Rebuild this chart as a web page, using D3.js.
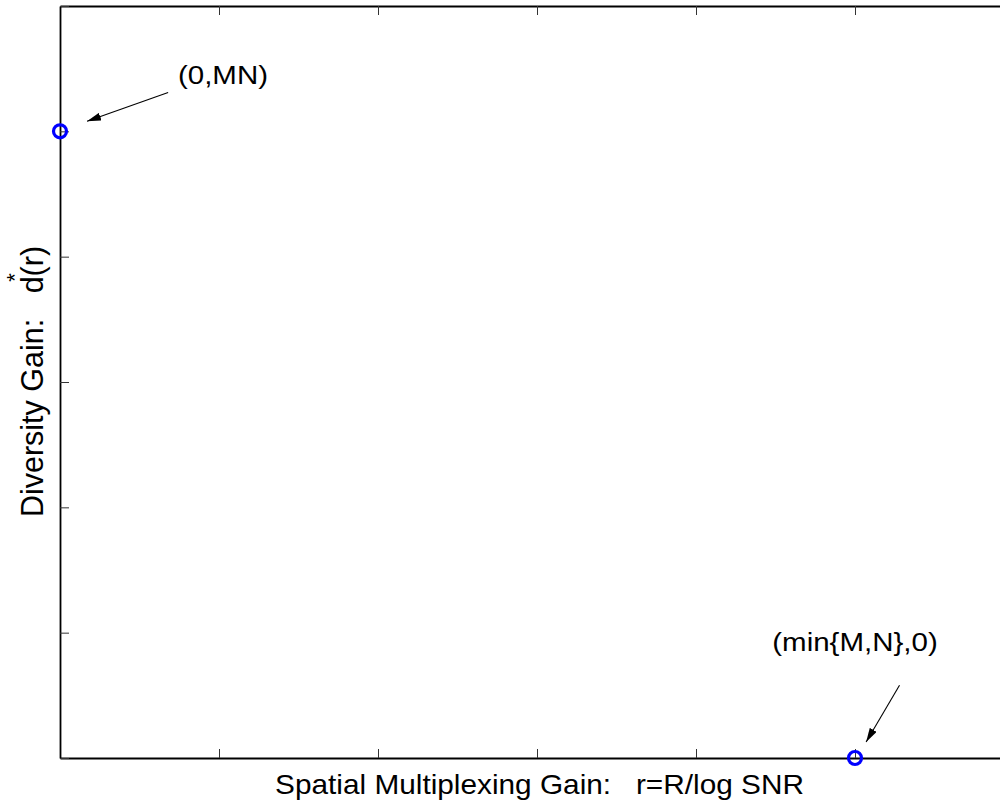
<!DOCTYPE html>
<html>
<head>
<meta charset="utf-8">
<script src="https://cdn.jsdelivr.net/npm/d3@7"></script>
<style>
  body { margin: 0; background: #fff; }
  text { font-family: "Liberation Sans", Arial, sans-serif; fill: #000; white-space: pre; }
</style>
</head>
<body>
<div id="chart"></div>
<script>
// points of the tradeoff curve ends
var pointX = [0, 5];
var pointY = [5, 0];

// ticks (no tick labels in the figure)
var xTicks = [0, 1, 2, 3, 4, 5, 6];
var yTicks = [0, 1, 2, 3, 4, 5, 6];

// annotations, in data units
var noteText = ['(0,MN)', '(min{M,N},0)'];
var noteX = [1.025, 5.0];
var noteY = [5.38, 0.854];
var arrowFromX = [0.68, 5.28];
var arrowFromY = [5.31, 0.58];
var arrowToX = [0.17, 5.07];
var arrowToY = [5.08, 0.128];

var width = 1000, height = 807;
var margin = {top: 6, left: 60, bottom: 49};

var x = d3.scaleLinear().domain([0, 6]).range([margin.left, 1014]);
var y = d3.scaleLinear().domain([0, 6]).range([height - margin.bottom, margin.top]);

var svg = d3.select("#chart").append("svg")
    .attr("width", width)
    .attr("height", height);

var defs = svg.append("defs");
defs.append("marker")
    .attr("id", "head")
    .attr("viewBox", "0 0 14 8")
    .attr("refX", 14).attr("refY", 4)
    .attr("markerWidth", 14).attr("markerHeight", 8)
    .attr("markerUnits", "userSpaceOnUse")
    .attr("orient", "auto")
  .append("path")
    .attr("d", "M0,0 L14,4 L0,8 Z")
    .attr("fill", "#000");

// axes box with inward ticks on all sides
var tickLen = 9;
function styleAxis(g) {
    g.selectAll(".tick text").remove();
    g.selectAll(".tick line").attr("stroke", "#333").attr("stroke-width", 1);
    g.select(".domain").attr("stroke", "#000").attr("stroke-width", 1.8);
}

svg.append("g").attr("transform", "translate(0," + y(0) + ")")
    .call(d3.axisBottom(x).tickValues(xTicks).tickSize(-tickLen).tickSizeOuter(0))
    .call(styleAxis);
svg.append("g").attr("transform", "translate(0," + y(6) + ")")
    .call(d3.axisTop(x).tickValues(xTicks).tickSize(-tickLen).tickSizeOuter(0))
    .call(styleAxis);
svg.append("g").attr("transform", "translate(" + x(0) + ",0)")
    .call(d3.axisLeft(y).tickValues(yTicks).tickSize(-tickLen).tickSizeOuter(0))
    .call(styleAxis);
svg.append("g").attr("transform", "translate(" + x(6) + ",0)")
    .call(d3.axisRight(y).tickValues(yTicks).tickSize(-tickLen).tickSizeOuter(0))
    .call(styleAxis);

// markers
svg.selectAll("circle.pt")
    .data(pointX.map((d, i) => ({x: d, y: pointY[i]})))
    .enter().append("circle")
    .attr("class", "pt")
    .attr("cx", d => x(d.x))
    .attr("cy", d => y(d.y))
    .attr("r", 6.5)
    .attr("fill", "none")
    .attr("stroke", "#0000ff")
    .attr("stroke-width", 3.2);

// arrows
noteText.forEach((t, i) => {
    svg.append("line")
        .attr("x1", x(arrowFromX[i])).attr("y1", y(arrowFromY[i]))
        .attr("x2", x(arrowToX[i])).attr("y2", y(arrowToY[i]))
        .attr("stroke", "#000").attr("stroke-width", 1.1)
        .attr("marker-end", "url(#head)");

    svg.append("text")
        .attr("transform", "translate(" + x(noteX[i]) + "," + y(noteY[i]) + ") scale(1,0.9)")
        .attr("text-anchor", "middle")
        .style("font-size", "29.5px")
        .text(t);
});

// axis labels
svg.append("text")
    .attr("transform", "translate(539.5,794) scale(1,0.9)")
    .attr("text-anchor", "middle")
    .style("font-size", "29.8px")
    .text("Spatial Multiplexing Gain:   r=R/log SNR");

var ylab = svg.append("g").attr("transform", "translate(43,381.5) rotate(-90)");
ylab.append("text")
    .attr("text-anchor", "middle")
    .style("font-size", "30.5px")
    .text("Diversity Gain:   d(r)");
ylab.append("text")
    .attr("x", 104)
    .attr("y", -21)
    .attr("text-anchor", "middle")
    .style("font-size", "22px")
    .text("*");
</script>
</body>
</html>
